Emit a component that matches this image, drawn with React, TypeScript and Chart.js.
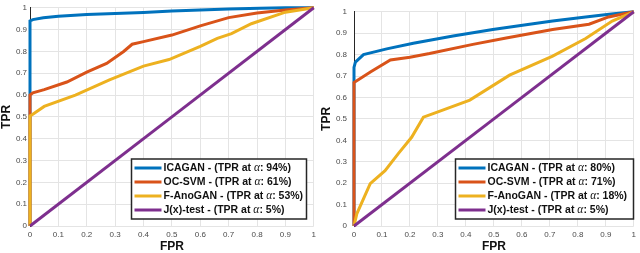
import React, { useEffect, useRef } from 'react';
import { Chart, registerables } from 'chart.js';
Chart.register(...registerables);

// ---------- data ----------
const SERIES_NAMES = ['ICAGAN', 'OC-SVM', 'F-AnoGAN', 'J(x)-test'];
const SERIES_COLORS = ['#0072BD', '#D95319', '#EDB120', '#7E2F8E'];
const AXIS_TICKS = [0, 0.1, 0.2, 0.3, 0.4, 0.5, 0.6, 0.7, 0.8, 0.9, 1];
const X_TITLE = 'FPR';
const Y_TITLE = 'TPR';

// left panel
const L_ICAGAN_FPR = [0, 0, 0.01, 0.047, 0.1, 0.2, 0.3, 0.4, 0.5, 0.6, 0.7, 0.81, 0.9, 1];
const L_ICAGAN_TPR = [0, 0.94, 0.946, 0.954, 0.961, 0.969, 0.974, 0.979, 0.985, 0.99, 0.994, 0.998, 1, 1];
const L_OCSVM_FPR = [0, 0, 0.01, 0.05, 0.13, 0.2, 0.27, 0.33, 0.36, 0.4, 0.5, 0.6, 0.7, 0.8, 0.9, 1];
const L_OCSVM_TPR = [0, 0.6, 0.61, 0.625, 0.66, 0.705, 0.745, 0.8, 0.833, 0.845, 0.875, 0.917, 0.955, 0.976, 0.99, 1];
const L_FANO_FPR = [0, 0, 0.01, 0.05, 0.16, 0.28, 0.4, 0.49, 0.6, 0.66, 0.71, 0.78, 0.9, 1];
const L_FANO_TPR = [0, 0.505, 0.512, 0.548, 0.6, 0.67, 0.733, 0.763, 0.823, 0.86, 0.882, 0.927, 0.98, 1];
const L_JX_FPR = [0, 0.5, 1];
const L_JX_TPR = [0, 0.5, 1];
const L_TPR_AT_ALPHA = [94, 61, 53, 5];

// right panel
const R_ICAGAN_FPR = [0, 0, 0.005, 0.034, 0.117, 0.212, 0.354, 0.496, 0.615, 0.71, 0.828, 0.92, 1];
const R_ICAGAN_TPR = [0, 0.74, 0.765, 0.8, 0.827, 0.853, 0.887, 0.917, 0.94, 0.957, 0.976, 0.99, 1];
const R_OCSVM_FPR = [0, 0, 0.06, 0.13, 0.2, 0.27, 0.425, 0.544, 0.71, 0.84, 0.91, 1];
const R_OCSVM_TPR = [0, 0.67, 0.72, 0.775, 0.788, 0.805, 0.848, 0.878, 0.917, 0.942, 0.976, 1];
const R_FANO_FPR = [0, 0.01, 0.058, 0.111, 0.159, 0.206, 0.248, 0.3, 0.414, 0.556, 0.71, 0.828, 0.923, 1];
const R_FANO_TPR = [0, 0.057, 0.198, 0.258, 0.339, 0.414, 0.508, 0.533, 0.588, 0.704, 0.793, 0.875, 0.957, 1];
const R_JX_FPR = [0, 0.5, 1];
const R_JX_TPR = [0, 0.5, 1];
const R_TPR_AT_ALPHA = [80, 71, 18, 5];

// ---------- helpers ----------
const zip = (xs: number[], ys: number[]) => xs.map((x, i) => ({ x, y: ys[i] }));
const fmt = (v: number) => String(Math.round(v * 10) / 10);

type PanelCfg = {
  series: { fpr: number[]; tpr: number[] }[];
  pct: number[];
  yAxisWidth: number;
  yTickPad: number;
  yTitleX: number;
  legend: { x: number; y: number; w: number; h: number };
};

function makePlugins(cfg: PanelCfg) {
  const annot = {
    id: 'annot',
    afterDatasetsDraw(chart: any) {
      const ctx = chart.ctx as CanvasRenderingContext2D;
      const ca = chart.chartArea;
      ctx.save();
      // axis titles
      ctx.fillStyle = '#111';
      ctx.font = 'bold 12px "Liberation Sans", Arial, sans-serif';
      ctx.textAlign = 'center';
      ctx.textBaseline = 'middle';
      ctx.fillText(X_TITLE, (ca.left + ca.right) / 2, 247);
      ctx.save();
      ctx.translate(cfg.yTitleX, (ca.top + ca.bottom) / 2);
      ctx.rotate(-Math.PI / 2);
      ctx.fillText(Y_TITLE, 0, 0);
      ctx.restore();

      // legend box
      const { x, y, w, h } = cfg.legend;
      ctx.fillStyle = '#ffffff';
      ctx.fillRect(x, y, w, h);
      ctx.strokeStyle = '#262626';
      ctx.lineWidth = 1.5;
      ctx.strokeRect(x, y, w, h);
      const rowH = 14;
      const firstY = y + (h - rowH * 3) / 2;
      SERIES_NAMES.forEach((name, i) => {
        const cy = firstY + i * rowH;
        ctx.strokeStyle = SERIES_COLORS[i];
        ctx.lineWidth = 3;
        ctx.beginPath();
        ctx.moveTo(x + 3, cy);
        ctx.lineTo(x + 30, cy);
        ctx.stroke();
        ctx.fillStyle = '#111';
        ctx.textAlign = 'left';
        ctx.textBaseline = 'middle';
        let tx = x + 32;
        const bold = 'bold 10.5px "Liberation Sans", Arial, sans-serif';
        const ital = 'italic 11.5px "Liberation Serif", "Times New Roman", serif';
        const a = `${name} - (TPR at `;
        ctx.font = bold;
        ctx.fillText(a, tx, cy);
        tx += ctx.measureText(a).width;
        ctx.font = ital;
        ctx.fillText('\u03b1', tx, cy);
        tx += ctx.measureText('\u03b1').width;
        ctx.font = bold;
        ctx.fillText(`: ${cfg.pct[i]}%)`, tx, cy);
      });
      ctx.restore();
    },
  };
  return [annot];
}

function makeConfig(cfg: PanelCfg): any {
  const datasets = cfg.series.map((s, i) => ({
    label: SERIES_NAMES[i],
    data: zip(s.fpr, s.tpr),
    borderColor: SERIES_COLORS[i],
    backgroundColor: SERIES_COLORS[i],
    borderWidth: 3,
    pointRadius: 0,
    tension: 0,
    fill: false,
    clip: 2,
    order: SERIES_NAMES.length - i,
  }));
  const tickFont = { size: 8, family: '"Liberation Sans", Arial, sans-serif' };
  return {
    type: 'line',
    data: { datasets },
    options: {
      animation: false,
      responsive: false,
      devicePixelRatio: 1,
      layout: { padding: { left: 0, right: 5, top: 2, bottom: 0 } },
      plugins: { legend: { display: false }, tooltip: { enabled: false } },
      scales: {
        x: {
          type: 'linear',
          min: 0,
          max: 1,
          afterBuildTicks: (s: any) => {
            s.ticks = AXIS_TICKS.map((v) => ({ value: v }));
          },
          ticks: { font: tickFont, color: '#4a4a4a', padding: 4, maxRotation: 0, autoSkip: false, callback: (v: number) => fmt(v) },
          grid: { color: '#e4e4e4', drawTicks: false, lineWidth: 1 },
          border: { display: false },
          afterFit: (s: any) => {
            s.height = 27;
          },
        },
        y: {
          type: 'linear',
          min: 0,
          max: 1,
          afterBuildTicks: (s: any) => {
            s.ticks = AXIS_TICKS.map((v) => ({ value: v }));
          },
          ticks: { font: tickFont, color: '#4a4a4a', padding: cfg.yTickPad, autoSkip: false, callback: (v: number) => fmt(v) },
          grid: { color: '#e4e4e4', drawTicks: false, lineWidth: 1 },
          border: { display: true, color: '#262626', width: 1 },
          afterFit: (s: any) => {
            s.width = cfg.yAxisWidth;
          },
        },
      },
    },
    plugins: makePlugins(cfg),
  };
}

const LEFT_PANEL: PanelCfg = {
  series: [
    { fpr: L_ICAGAN_FPR, tpr: L_ICAGAN_TPR },
    { fpr: L_OCSVM_FPR, tpr: L_OCSVM_TPR },
    { fpr: L_FANO_FPR, tpr: L_FANO_TPR },
    { fpr: L_JX_FPR, tpr: L_JX_TPR },
  ],
  pct: L_TPR_AT_ALPHA,
  yAxisWidth: 30,
  yTickPad: 3,
  yTitleX: 7,
  legend: { x: 131.5, y: 159, w: 175, h: 60 },
};

const RIGHT_PANEL: PanelCfg = {
  series: [
    { fpr: R_ICAGAN_FPR, tpr: R_ICAGAN_TPR },
    { fpr: R_OCSVM_FPR, tpr: R_OCSVM_TPR },
    { fpr: R_FANO_FPR, tpr: R_FANO_TPR },
    { fpr: R_JX_FPR, tpr: R_JX_TPR },
  ],
  pct: R_TPR_AT_ALPHA,
  yAxisWidth: 34,
  yTickPad: 7,
  yTitleX: 7,
  legend: { x: 135.5, y: 159, w: 178, h: 60 },
};

function Panel({ cfg }: { cfg: PanelCfg }) {
  const ref = useRef<HTMLCanvasElement>(null);
  useEffect(() => {
    if (!ref.current) return;
    const chart = new Chart(ref.current, makeConfig(cfg));
    return () => chart.destroy();
  }, [cfg]);
  return <canvas ref={ref} width={320} height={253} style={{ display: 'block', width: 320, height: 253 }} />;
}

export default function App() {
  return (
    <div style={{ position: 'fixed', left: 0, top: 0, width: 640, height: 253, display: 'flex', background: '#fff' }}>
      <Panel cfg={LEFT_PANEL} />
      <Panel cfg={RIGHT_PANEL} />
    </div>
  );
}
